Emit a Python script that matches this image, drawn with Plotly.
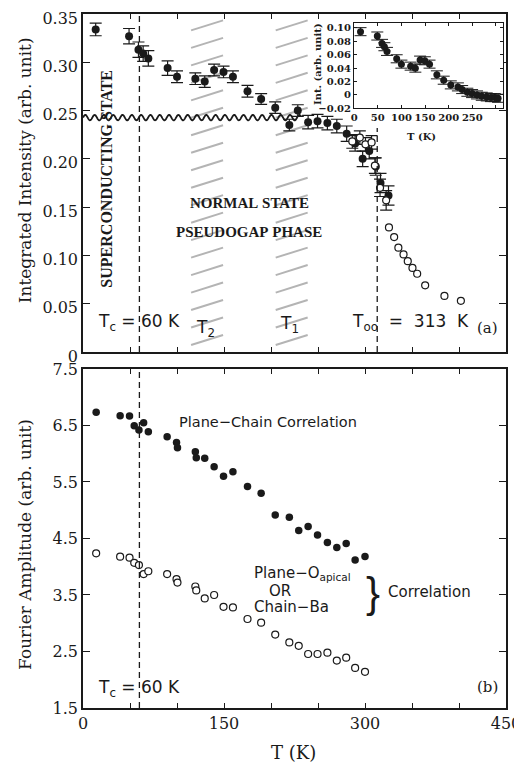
import numpy as np
import plotly.graph_objects as go

# ---------------- Panel (a): integrated intensity ----------------
T_a_filled = [13.5, 49, 59, 64, 69.5, 90, 100, 119.5, 129.5, 139.5, 149.5, 159.5, 175, 189.5,
              204.5, 219.5, 228.5, 239.5, 249.5, 260, 270, 280.5, 289.5, 297.5, 304.5, 311.5, 316.5, 325]
I_a_filled = [0.334, 0.327, 0.313, 0.309, 0.304, 0.294, 0.285, 0.283, 0.280, 0.292, 0.290, 0.285, 0.270, 0.262,
              0.253, 0.235, 0.250, 0.238, 0.239, 0.237, 0.234, 0.226, 0.216, 0.200, 0.208, 0.192, 0.175, 0.162]
E_a_filled = [0.0065, 0.008, 0.008, 0.008, 0.008, 0.0075, 0.006, 0.006, 0.006, 0.006, 0.006, 0.006, 0.006, 0.0055,
              0.006, 0.006, 0.006, 0.007, 0.007, 0.007, 0.007, 0.008, 0.008, 0.008, 0.008, 0.009, 0.010, 0.010]

T_a_open_err = [286.5, 294.5, 300.5, 307, 310.5, 316, 322.5]
I_a_open_err = [0.218, 0.222, 0.215, 0.217, 0.193, 0.170, 0.157]
E_a_open_err = [0.007, 0.007, 0.007, 0.007, 0.008, 0.009, 0.010]

T_a_open = [325.5, 331, 335.5, 341, 345.5, 350.5, 355.5, 364, 384.5, 402]
I_a_open = [0.129, 0.119, 0.108, 0.101, 0.094, 0.087, 0.081, 0.069, 0.058, 0.053]

# inset (background-subtracted intensity)
T_inset = [13.5, 49, 59, 64, 69.5, 90, 100, 119.5, 129.5, 139.5, 149.5, 159.5, 175, 189.5,
           204.5, 219.5, 228.5, 239.5, 249.5, 260, 270, 280.5, 289.5, 297.5, 304.5]
I_inset = [0.0945, 0.088, 0.077, 0.072, 0.065, 0.054, 0.046, 0.043, 0.040, 0.052, 0.051, 0.046, 0.030, 0.022,
           0.015, 0.012, 0.008, 0.004, 0.002, 0.000, -0.002, -0.003, -0.004, -0.004, -0.005]
E_inset = [0.006] * len(T_inset)

# ---------------- Panel (b): Fourier amplitudes ----------------
T_b = [14, 39.5, 49.5, 54.5, 59.5, 64.5, 69.5, 89.5, 99.5, 100.5, 119.5, 120.5, 129.5, 139.5,
       149.5, 159.5, 175, 189.5, 204.5, 219.5, 229.5, 239.5, 249.5, 260, 270, 280, 289.5, 300]
A_plane_chain = [6.733, 6.673, 6.668, 6.497, 6.42, 6.55, 6.39, 6.30, 6.20, 6.107, 6.036, 5.93, 5.92, 5.77,
                 5.60, 5.68, 5.42, 5.30, 4.916, 4.875, 4.64, 4.71, 4.56, 4.43, 4.34, 4.41, 4.12, 4.18]
A_plane_apical = [4.238, 4.178, 4.16, 4.07, 4.03, 3.87, 3.92, 3.87, 3.78, 3.72, 3.65, 3.58, 3.44, 3.50,
                  3.29, 3.28, 3.075, 3.01, 2.80, 2.66, 2.60, 2.456, 2.456, 2.48, 2.34, 2.39, 2.21, 2.14]

# characteristic temperatures
Tc = 60
T_oo = 313
T2 = 132
T1 = 222

x_ticks = list(range(0, 451, 50))
x_ticktext = [str(v) if v % 150 == 0 else "" for v in x_ticks]
ya_ticks = [0, 0.05, 0.10, 0.15, 0.20, 0.25, 0.30, 0.35]
ya_text = ["0", "0.05", "0.10", "0.15", "0.20", "0.25", "0.30", "0.35"]
yb_ticks = [1.5, 2.5, 3.5, 4.5, 5.5, 6.5, 7.5]
yb_text = ["1.5", "2.5", "3.5", "4.5", "5.5", "6.5", "7.5"]
xi_ticks = [0, 50, 100, 150, 200, 250, 300]
xi_text = ["0", "50", "100", "150", "200", "250", ""]
yi_ticks = [-0.02, 0, 0.02, 0.04, 0.06, 0.08, 0.10]
yi_text = ["\u22120.02", "0", "0.02", "0.04", "0.06", "0.08", "0.10"]

INK = "#1a1a1a"
SERIF = "DejaVu Serif"
SANS = "DejaVu Sans"

fig = go.Figure()

err_style = dict(type="data", thickness=1.2, width=6, color=INK)

fig.add_trace(go.Scatter(x=T_a_filled, y=I_a_filled, mode="markers", xaxis="x", yaxis="y",
                         marker=dict(color=INK, size=8),
                         error_y=dict(array=E_a_filled, **err_style), showlegend=False))
fig.add_trace(go.Scatter(x=T_a_open_err, y=I_a_open_err, mode="markers", xaxis="x", yaxis="y",
                         marker=dict(color="white", size=7, line=dict(color=INK, width=1.2)),
                         error_y=dict(array=E_a_open_err, **err_style), showlegend=False))
fig.add_trace(go.Scatter(x=T_a_open, y=I_a_open, mode="markers", xaxis="x", yaxis="y",
                         marker=dict(color="white", size=7, line=dict(color=INK, width=1.2)),
                         showlegend=False))
fig.add_trace(go.Scatter(x=T_inset, y=I_inset, mode="markers", xaxis="x3", yaxis="y3",
                         marker=dict(color=INK, size=7),
                         error_y=dict(array=E_inset, type="data", thickness=1, width=6, color=INK),
                         showlegend=False))
fig.add_trace(go.Scatter(x=T_b, y=A_plane_chain, mode="markers", xaxis="x2", yaxis="y2",
                         marker=dict(color=INK, size=7.5), showlegend=False))
fig.add_trace(go.Scatter(x=T_b, y=A_plane_apical, mode="markers", xaxis="x2", yaxis="y2",
                         marker=dict(color="white", size=7, line=dict(color=INK, width=1.2)),
                         showlegend=False))

shapes = []
# hatched bands at T2 and T1
for Tb in (T2, T1):
    for k in range(19):
        y0 = 0.333 - k * 0.0181
        shapes.append(dict(type="line", xref="x", yref="y", x0=Tb - 17, x1=Tb + 17,
                           y0=y0, y1=y0 + 0.0104, line=dict(color="#b4b4b4", width=2), layer="below"))
# dashed lines
shapes.append(dict(type="line", xref="x", yref="y domain", x0=Tc, x1=Tc, y0=0, y1=1,
                   line=dict(color=INK, width=1.3, dash="6px,4px")))
shapes.append(dict(type="line", xref="x2", yref="y2 domain", x0=Tc, x1=Tc, y0=0, y1=1,
                   line=dict(color=INK, width=1.3, dash="6px,4px")))
shapes.append(dict(type="line", xref="x", yref="y", x0=T_oo, x1=T_oo, y0=0, y1=0.232,
                   line=dict(color=INK, width=1.3, dash="6px,4px")))
# wavy break line
wx = np.linspace(0, 232, 600)
wy = 0.2427 + 0.0028 * np.sin(2 * np.pi * wx / 9.9)
path = "M " + " L ".join(f"{a:.2f},{b:.5f}" for a, b in zip(wx, wy))
shapes.append(dict(type="path", xref="x", yref="y", path=path, line=dict(color=INK, width=1.8)))

ann = []
def add(text, x, y, xref, yref, size, family=SANS, xanchor="center", yanchor="middle", angle=0, bold=False):
    if bold:
        text = "<b>" + text + "</b>"
    ann.append(dict(text=text, x=x, y=y, xref=xref, yref=yref, showarrow=False,
                    font=dict(family=family, size=size, color=INK), xanchor=xanchor,
                    yanchor=yanchor, textangle=angle))

NB = "\u00a0"
add("SUPERCONDUCTING" + NB + "STATE", 25, 0.179, "x", "y", 16, family="Liberation Serif", angle=-90, bold=True)
add("NORMAL" + NB + "STATE", 177, 0.154, "x", "y", 15, family="Liberation Serif", bold=True)
add("PSEUDOGAP" + NB + "PHASE", 177, 0.124, "x", "y", 15, family="Liberation Serif", bold=True)
add("T<sub>c</sub>" + NB + "=" + NB + "60" + NB + "K", 14, 0.031, "x", "y", 17, xanchor="left")
add("T<sub>2</sub>", T2 - 2, 0.024, "x", "y", 17)
add("T<sub>1</sub>", T1 - 2, 0.028, "x", "y", 17)
add("T<sub>oo</sub>" + NB * 2 + "=" + NB * 2 + "313" + NB * 2 + "K", 284, 0.031, "x", "y", 17, xanchor="left")
add("(a)", 444, 0.025, "x", "y", 15, family=SERIF, xanchor="right")

add("Plane\u2212Chain" + NB + "Correlation", 100, 6.567, "x2", "y2", 14.5, xanchor="left")
add("Plane\u2212O<sub>apical</sub>", 180, 3.88, "x2", "y2", 15, xanchor="left")
add("OR", 210, 3.57, "x2", "y2", 15)
add("Chain\u2212Ba", 180, 3.29, "x2", "y2", 15, xanchor="left")
add("}", 308.5, 3.55, "x2", "y2", 42, family="Liberation Sans")
add("Correlation", 322, 3.55, "x2", "y2", 15, xanchor="left")
add("T<sub>c</sub>" + NB + "=" + NB + "60" + NB + "K", 14, 1.85, "x2", "y2", 17, xanchor="left")
add("(b)", 444, 1.87, "x2", "y2", 15, family=SERIF, xanchor="right")

# axis titles (placed in paper coordinates)
add("Integrated Intensity (arb. unit)", -0.137, 0.775, "paper", "paper", 17, family=SERIF, angle=-90)
add("Fourier Amplitude (arb. unit)", -0.137, 0.235, "paper", "paper", 17, family=SERIF, angle=-90)
add("T (K)", 0.497, -0.0645, "paper", "paper", 18, family=SERIF)
# inset axis titles
add("Int. (arb. unit)", 0.5556, 0.928, "paper", "paper", 10, family=SERIF, angle=-90, bold=True)
add("T (K)", 0.80, 0.8228, "paper", "paper", 10, family=SERIF, bold=True)

axis_common = dict(showgrid=False, zeroline=False, showline=True, linecolor=INK, linewidth=1.5,
                   ticks="inside", mirror="ticks", tickcolor=INK, tickwidth=1.2, automargin=False,
                   ticklabeloverflow="allow",
                   tickfont=dict(family=SERIF, size=16, color=INK))
inset_common = dict(showgrid=False, zeroline=False, showline=True, linecolor=INK, linewidth=1.2,
                    ticks="inside", ticklen=3, mirror="ticks", tickcolor=INK, automargin=False,
                    ticklabeloverflow="allow",
                    tickfont=dict(family=SERIF, size=10, color=INK, weight="bold"))

# the page body adds an 8px offset, so the figure is sized to fit the window
fig.update_layout(
    template="none",
    width=514, height=756,
    margin=dict(l=75, r=16, t=6, b=56, autoexpand=False),
    paper_bgcolor="white", plot_bgcolor="white",
    showlegend=False,
    xaxis=dict(domain=[0, 1], anchor="y", range=[0, 450], tickvals=x_ticks, showticklabels=False,
               ticklen=5, **axis_common),
    yaxis=dict(domain=[0.513, 1], anchor="x", range=[0, 0.35], tickvals=ya_ticks, ticktext=ya_text,
               ticklen=7, ticklabelshift=4, **axis_common),
    xaxis2=dict(domain=[0, 1], anchor="y2", range=[0, 450], tickvals=x_ticks, ticktext=x_ticktext,
                ticklen=5, **axis_common),
    yaxis2=dict(domain=[0, 0.4885], anchor="x2", range=[1.5, 7.5], tickvals=yb_ticks, ticktext=yb_text,
                ticklen=7, **axis_common),
    xaxis3=dict(domain=[0.641, 0.993], anchor="y3", range=[0, 315], tickvals=xi_ticks, ticktext=xi_text,
                **inset_common),
    yaxis3=dict(domain=[0.8641, 0.9866], anchor="x3", range=[-0.02, 0.107], tickvals=yi_ticks, ticktext=yi_text,
                **inset_common),
    shapes=shapes,
    annotations=ann,
)

fig.write_html("out.html")
